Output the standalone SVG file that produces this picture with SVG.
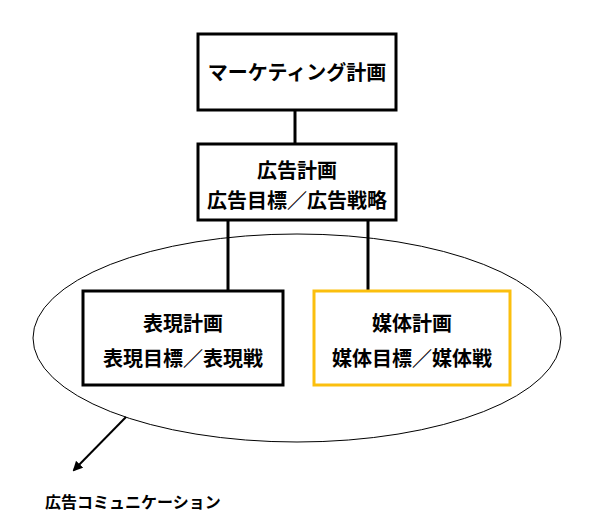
<svg xmlns="http://www.w3.org/2000/svg" width="600" height="519" viewBox="0 0 600 519">
<style>
.b{fill:#fff;stroke:#000;stroke-width:3}
.y{fill:#fff;stroke:#fbbf0e;stroke-width:3}
.t{font-family:"Noto Sans CJK JP",sans-serif;font-weight:bold;font-size:20px;text-anchor:middle;fill:#000}
.c{stroke:#000;stroke-width:3;fill:none}
</style>
<defs><marker id="a" markerWidth="10" markerHeight="10" refX="8" refY="5" orient="auto" markerUnits="userSpaceOnUse"><path d="M0,0 L10,5 L0,10 z" fill="#000"/></marker></defs>
<ellipse cx="297" cy="338" rx="264" ry="104" fill="#fff" stroke="#000" stroke-width="1"/>
<g id="connectors">
<line class="c" x1="295" y1="110" x2="295" y2="144"/>
<line class="c" x1="228" y1="220" x2="228" y2="291"/>
<line class="c" x1="368" y1="220" x2="368" y2="291"/>
<line x1="126" y1="417" x2="74" y2="470" stroke="#000" stroke-width="2" marker-end="url(#a)"/>
</g>
<g id="n1"><rect class="b" x="198" y="34" width="198" height="76"/><text class="t" x="297" y="80">マーケティング計画</text></g>
<g id="n2"><rect class="b" x="198" y="144" width="198" height="76"/><text class="t" x="297" y="178">広告計画</text><text class="t" x="297" y="208">広告目標／広告戦略</text></g>
<g id="n3"><rect class="b" x="83" y="291" width="200" height="94"/><text class="t" x="183" y="331">表現計画</text><text class="t" x="183" y="366">表現目標／表現戦</text></g>
<g id="n4"><rect class="y" x="314" y="291" width="196" height="94"/><text class="t" x="412" y="331">媒体計画</text><text class="t" x="412" y="366">媒体目標／媒体戦</text></g>
<text x="45" y="508" font-family="'Noto Sans CJK JP',sans-serif" font-weight="bold" font-size="16">広告コミュニケーション</text>
</svg>
